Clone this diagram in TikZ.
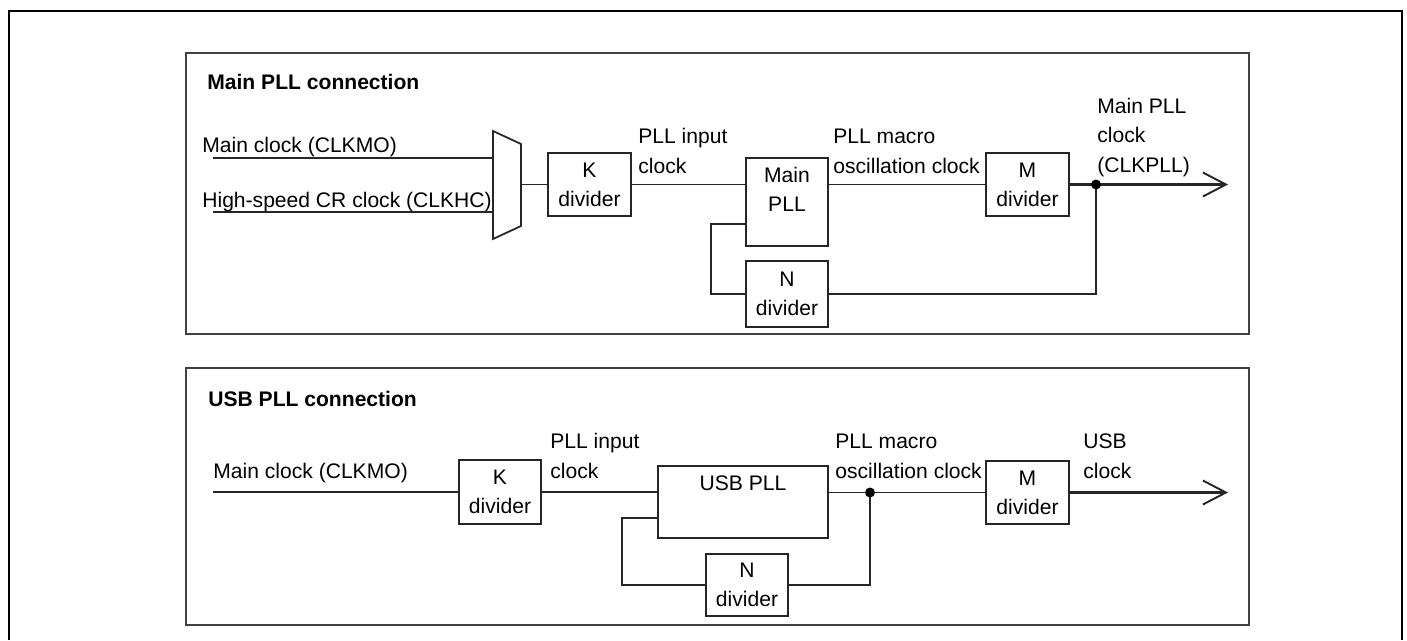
\documentclass[tikz,border=0pt]{standalone}
\usepackage{fontspec}
\setmainfont{Liberation Sans}
\usetikzlibrary{arrows.meta}
\newcommand\pllfont{\fontsize{12}{16.6}\selectfont}
\tikzset{
	blk/.style={draw=black!85, line width=1pt, inner sep=0pt, align=center, fill=white},
	wire/.style={draw=black!85, line width=1pt},
	txt/.style={inner sep=0pt, anchor=base west, align=left},
	pllname/.style={inner sep=0pt, anchor=north, align=center, yshift=-0.2cm},
	panel/.style={draw=black!75, line width=1pt},
	outarrow/.style={wire, line width=1.3pt, -{Straight Barb[length=0.46cm, width=0.48cm, line width=1.1pt]}},
	tapdot/.style={fill=black, draw=none}
}

\begin{document}
\begin{tikzpicture}[x=0.02cm, y=-0.02cm, font=\pllfont]
				%%%%% FRAME %%%%%
				\useasboundingbox (0,0) rectangle (1407,640);
				\draw[line width=1.1pt] (9,640) -- (9,11) -- (1402,11) -- (1402,640);
				
				%%%%% MAIN PLL %%%%%
				\draw[panel] (186,53) rectangle (1249,334);
				\node[txt, font=\pllfont\bfseries] (title1) at (207,89) {Main PLL connection};
				
				\node[txt] (inclk1) at (202,152) {Main clock (CLKMO)};
				\node[txt] (inhc1) at (202,207) {High-speed CR clock (CLKHC)};
				
				\draw[wire] (493,131) -- (521,144) -- (521,226) -- (493,239) -- cycle;
				\coordinate (src1) at (213,158);
				\coordinate (src2) at (213,212);
				\coordinate (muxa) at (493,158);
				\coordinate (muxb) at (493,212);
				\coordinate (muxout) at (521,184.5);
				
				\node[blk, minimum width=1.66cm, minimum height=1.26cm] (kdiv1) at (589.5,184.5) {K\\divider};
				\node[blk, minimum width=1.64cm, minimum height=1.76cm, label={[pllname]north:Main\\PLL}] (mainpll) at (787,202) {};
				\node[blk, minimum width=1.66cm, minimum height=1.26cm] (mdiv1) at (1027.5,184.5) {M\\divider};
				\node[blk, minimum width=1.64cm, minimum height=1.32cm] (ndiv1) at (787,294) {N\\divider};
				
				\node[txt] (pllin1) at (638,173) {PLL input\\clock};
				\node[txt] (macro1) at (833,173) {PLL macro\\oscillation clock};
				\node[txt] (clkpll) at (1097,172) {Main PLL\\clock\\(CLKPLL)};
				
				\coordinate (tap1) at (1096,184.5);
				\coordinate (out1) at (1228,184.5);
				\coordinate (fbin1) at (746,224);
				
				\draw[wire] (src1) -- (muxa);
				\draw[wire] (src2) -- (muxb);
				\draw[wire] (muxout) -- (kdiv1.west);
				\draw[wire] (kdiv1.east) -- (kdiv1.east -| mainpll.west);
				\draw[wire] (mdiv1.west -| mainpll.east) -- (mdiv1.west);
				\draw[outarrow] (mdiv1.east) -- (out1);
				\draw[wire, line width=1.2pt] (tap1) |- (ndiv1.east);
				\draw[wire] (ndiv1.west) -- ++(-34,0) |- (fbin1);
				\fill[tapdot] (tap1) circle (0.1cm);
				
				%%%%% USB PLL %%%%%
				\draw[panel] (186,368) rectangle (1249,625);
				\node[txt, font=\pllfont\bfseries] (title2) at (208,406) {USB PLL connection};
				
				\node[txt] (inclk2) at (213,478) {Main clock (CLKMO)};
				\coordinate (src3) at (213,492);
				
				\node[blk, minimum width=1.64cm, minimum height=1.28cm] (kdiv2) at (500,492) {K\\divider};
				\node[blk, minimum width=3.4cm, minimum height=1.44cm, label={[pllname]north:USB PLL}] (usbpll) at (743,502) {};
				\node[blk, minimum width=1.66cm, minimum height=1.26cm] (mdiv2) at (1027.5,492.5) {M\\divider};
				\node[blk, minimum width=1.64cm, minimum height=1.24cm] (ndiv2) at (747,585) {N\\divider};
				
				\node[txt] (pllin2) at (550,478) {PLL input\\clock};
				\node[txt] (macro2) at (835,478) {PLL macro\\oscillation clock};
				\node[txt] (usbclk) at (1083,478) {USB\\clock};
				
				\coordinate (tap2) at (870,492.5);
				\coordinate (out2) at (1228,492.5);
				\coordinate (fbin2) at (658,518);
				
				\draw[wire] (src3) -- (kdiv2.west);
				\draw[wire] (kdiv2.east) -- (kdiv2.east -| usbpll.west);
				\draw[wire] (mdiv2.west -| usbpll.east) -- (mdiv2.west);
				\draw[outarrow] (mdiv2.east) -- (out2);
				\draw[wire] (tap2) |- (ndiv2.east);
				\draw[wire] (ndiv2.west) -- ++(-83,0) |- (fbin2);
				\fill[tapdot] (tap2) circle (0.1cm);
			\end{tikzpicture}
\end{document}
